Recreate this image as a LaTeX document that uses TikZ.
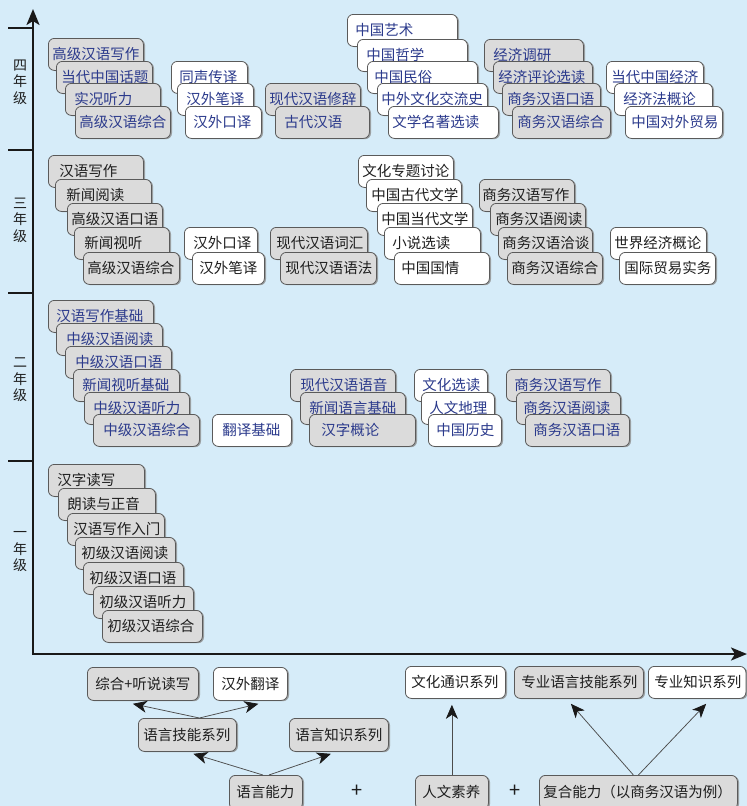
\documentclass[tikz,border=0pt]{standalone}
\usepackage{fontspec}
\setmainfont{Noto Sans CJK SC}
\usetikzlibrary{arrows.meta,calc,shadows}
\definecolor{bg}{HTML}{D6ECF9}
\definecolor{boxgray}{HTML}{DBDBDB}
\definecolor{edgecol}{HTML}{5A5A5A}
\definecolor{tblue}{HTML}{2B3A8C}
\definecolor{tdark}{HTML}{1E1E1E}
\newcommand\cnf{\fontsize{14.5}{17}\selectfont}
\newcommand\cb[7]{\pgfmathsetmacro\cbw{#5-2*#6}\node[#2, anchor=north west, inner xsep=#6pt] (#1) at (#3,#4) {\makebox[\cbw pt][l]{#7}};}
\tikzset{
  basebox/.style={draw=edgecol, line width=0.8pt, rounded corners=6pt, minimum height=32pt, inner ysep=0pt, font=\cnf,
    drop shadow={shadow xshift=1.6pt, shadow yshift=-0.8pt, fill=black!45, opacity=0.8}},
  gbox/.style={basebox, fill=boxgray},
  wbox/.style={basebox, fill=white},
  bluet/.style={text=tblue},
  darkt/.style={text=tdark},
  axisline/.style={line width=2.4pt, draw=black!90},
  conn/.style={draw=black!70, line width=0.75pt, -{Stealth[length=14pt,width=12pt,inset=4pt,color=black!90,fill=black!90]}},
  yearlab/.style={font=\fontsize{14}{16.5}\selectfont, align=center, text=tdark, inner sep=0pt}
}
\begin{document}
\begin{tikzpicture}[x=1pt,y=-1pt]
\useasboundingbox (0,0) rectangle (747,806);
\fill[bg] (0,0) rectangle (747,806);
% axes
\coordinate (org) at (33,654);
\coordinate (ytop) at (33,9);
\coordinate (xend) at (747,654);
\draw[axisline, -{Stealth[length=16pt,width=13pt,inset=4pt]}] (org) -- (ytop);
\draw[axisline, -{Stealth[length=16pt,width=13pt,inset=4pt]}] ([xshift=-1.2pt]org) -- (xend);
\foreach \yy in {28,150,293,461} \draw[axisline] (8,\yy) -- (34.2,\yy);
\node[yearlab] (y4) at (20,82) {四\\年\\级};
\node[yearlab] (y3) at (20,220) {三\\年\\级};
\node[yearlab] (y2) at (20,380) {二\\年\\级};
\node[yearlab] (y1) at (20,552) {一\\年\\级};
% ---------- year 4
\cb{a1}{gbox,bluet}{48}{38}{95}{4}{高级汉语写作}
\cb{a2}{gbox,bluet}{56}{61}{96}{5}{当代中国话题}
\cb{a3}{gbox,bluet}{65}{83}{95}{9}{实况听力}
\cb{a4}{gbox,bluet}{75}{106}{95}{4}{高级汉语综合}
\cb{b1}{wbox,bluet}{171}{61}{76}{8}{同声传译}
\cb{b2}{wbox,bluet}{177}{83}{76}{9}{汉外笔译}
\cb{b3}{wbox,bluet}{185}{106}{76}{8}{汉外口译}
\cb{c1}{gbox,bluet}{265}{83}{95}{4}{现代汉语修辞}
\cb{c2}{gbox,bluet}{275}{106}{94}{9}{古代汉语}
\cb{d1}{wbox,bluet}{347}{14}{110}{8}{中国艺术}
\cb{d2}{wbox,bluet}{357}{39}{110}{9}{中国哲学}
\cb{d3}{wbox,bluet}{367}{61}{110}{7}{中国民俗}
\cb{d4}{wbox,bluet}{377}{83}{110}{4}{中外文化交流史}
\cb{d5}{wbox,bluet}{388}{106}{110}{4}{文学名著选读}
\cb{e1}{gbox,bluet}{484}{39}{99}{9}{经济调研}
\cb{e2}{gbox,bluet}{493}{61}{99}{5}{经济评论选读}
\cb{e3}{gbox,bluet}{502}{83}{98}{5}{商务汉语口语}
\cb{e4}{gbox,bluet}{512}{106}{98}{5}{商务汉语综合}
\cb{f1}{wbox,bluet}{606}{61}{97}{5}{当代中国经济}
\cb{f2}{wbox,bluet}{614}{83}{98}{9}{经济法概论}
\cb{f3}{wbox,bluet}{625}{106}{97}{6}{中国对外贸易}
% ---------- year 3
\cb{g1}{gbox,darkt}{48}{155}{95}{11}{汉语写作}
\cb{g2}{gbox,darkt}{55}{179}{96}{11}{新闻阅读}
\cb{g3}{gbox,darkt}{67}{203}{95}{4}{高级汉语口语}
\cb{g4}{gbox,darkt}{74}{227}{95}{10}{新闻视听}
\cb{g5}{gbox,darkt}{83}{252}{96}{4}{高级汉语综合}
\cb{h1}{wbox,darkt}{184}{227}{73}{9}{汉外口译}
\cb{h2}{wbox,darkt}{192}{252}{72}{7}{汉外笔译}
\cb{i1}{gbox,darkt}{270}{227}{97}{6}{现代汉语词汇}
\cb{i2}{gbox,darkt}{280}{252}{96}{5}{现代汉语语法}
\cb{j1}{wbox,darkt}{358}{155}{95}{4}{文化专题讨论}
\cb{j2}{wbox,darkt}{366}{179}{95}{5}{中国古代文学}
\cb{j3}{wbox,darkt}{377}{203}{95}{4}{中国当代文学}
\cb{j4}{wbox,darkt}{384}{227}{96}{8}{小说选读}
\cb{j5}{wbox,darkt}{394}{252}{95}{7}{中国国情}
\cb{k1}{gbox,darkt}{479}{179}{95}{3}{商务汉语写作}
\cb{k2}{gbox,darkt}{490}{203}{95}{5}{商务汉语阅读}
\cb{k3}{gbox,darkt}{498}{227}{94}{4}{商务汉语洽谈}
\cb{k4}{gbox,darkt}{507}{252}{95}{4}{商务汉语综合}
\cb{l1}{wbox,darkt}{610}{227}{96}{4}{世界经济概论}
\cb{l2}{wbox,darkt}{619}{252}{96}{5}{国际贸易实务}
% ---------- year 2
\cb{m1}{gbox,bluet}{48}{300}{105}{8}{汉语写作基础}
\cb{m2}{gbox,bluet}{56}{323}{106}{10}{中级汉语阅读}
\cb{m3}{gbox,bluet}{65}{346}{106}{10}{中级汉语口语}
\cb{m4}{gbox,bluet}{73}{369}{106}{9}{新闻视听基础}
\cb{m5}{gbox,bluet}{84}{392}{105}{9}{中级汉语听力}
\cb{m6}{gbox,bluet}{93}{414}{106}{10}{中级汉语综合}
\cb{n1}{wbox,bluet}{212}{414}{79}{10}{翻译基础}
\cb{o1}{gbox,bluet}{290}{369}{105}{10}{现代汉语语音}
\cb{o2}{gbox,bluet}{300}{392}{105}{9}{新闻语言基础}
\cb{o3}{gbox,bluet}{309}{414}{106}{12}{汉字概论}
\cb{p1}{wbox,bluet}{414}{369}{73}{8}{文化选读}
\cb{p2}{wbox,bluet}{421}{392}{73}{8}{人文地理}
\cb{p3}{wbox,bluet}{428}{414}{73}{8}{中国历史}
\cb{q1}{gbox,bluet}{506}{369}{104}{8}{商务汉语写作}
\cb{q2}{gbox,bluet}{516}{392}{104}{7}{商务汉语阅读}
\cb{q3}{gbox,bluet}{525}{414}{104}{8}{商务汉语口语}
% ---------- year 1
\cb{r1}{gbox,darkt}{48}{464}{96}{9}{汉字读写}
\cb{r2}{gbox,darkt}{58}{488}{97}{9}{朗读与正音}
\cb{r3}{gbox,darkt}{67}{513}{97}{6}{汉语写作入门}
\cb{r4}{gbox,darkt}{75}{537}{100}{6}{初级汉语阅读}
\cb{r5}{gbox,darkt}{83}{562}{100}{6}{初级汉语口语}
\cb{r6}{gbox,darkt}{93}{586}{100}{6}{初级汉语听力}
\cb{r7}{gbox,darkt}{102}{610}{100}{5}{初级汉语综合}
% ---------- legend
\cb{s1}{gbox,darkt,minimum height=33pt}{87}{667}{111}{8}{综合+听说读写}
\cb{s2}{wbox,darkt,minimum height=33pt}{213}{667}{74}{8}{汉外翻译}
\cb{s3}{gbox,darkt,minimum height=33pt}{138}{718}{98}{5}{语言技能系列}
\cb{s4}{gbox,darkt,minimum height=33pt}{289}{718}{99}{6}{语言知识系列}
\cb{s5}{gbox,darkt,minimum height=34pt}{229}{775}{73}{7}{语言能力}
\cb{t1}{wbox,darkt}{405}{666}{100}{6}{文化通识系列}
\cb{t2}{gbox,darkt}{514}{666}{129}{7}{专业语言技能系列}
\cb{t3}{wbox,darkt}{648}{666}{97.5}{6}{专业知识系列}
\cb{t4}{gbox,darkt,minimum height=34pt}{415}{775}{73}{7}{人文素养}
\cb{t5}{gbox,darkt,minimum height=34pt}{539}{775}{198}{4}{复合能力（以商务汉语为例）}
\node[font=\fontsize{20}{22}\selectfont, text=tdark] (plus1) at (357,791) {+};
\node[font=\fontsize{20}{22}\selectfont, text=tdark] (plus2) at (515,791) {+};
% connectors
\draw[conn] ([xshift=12pt]s3.north) -- ([xshift=-10pt,yshift=-3pt]s1.south);
\draw[conn] ([xshift=12pt]s3.north) -- ([xshift=8pt,yshift=-3pt]s2.south);
\draw[conn] ([xshift=-3pt]s5.north) -- ([xshift=6pt,yshift=-2pt]s3.south);
\draw[conn] ([xshift=3pt]s5.north) -- ([xshift=-8pt,yshift=-2pt]s4.south);
\draw[conn] (t4.north) -- ([yshift=-6pt]t4.north |- t1.south);
\draw[conn] ([xshift=-5pt]t5.north) -- ([xshift=-8pt,yshift=-5pt]t2.south);
\draw[conn] (t5.north) -- ([xshift=9pt,yshift=-5pt]t3.south);
\end{tikzpicture}
\end{document}
